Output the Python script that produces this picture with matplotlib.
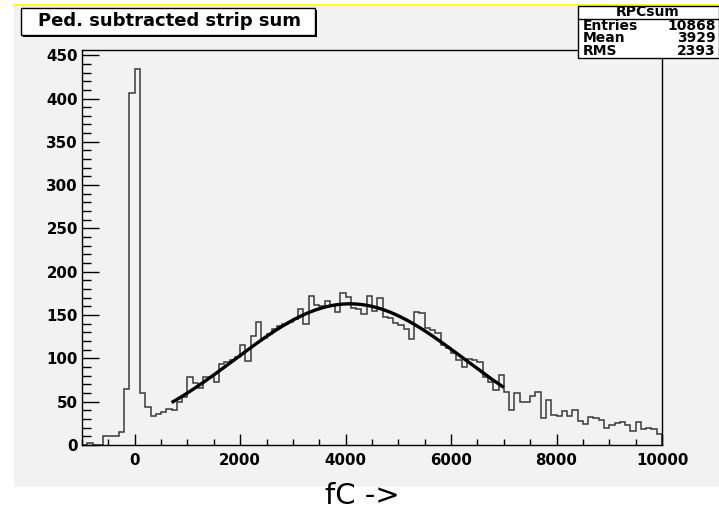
import numpy as np
import matplotlib
matplotlib.use("Agg")
import matplotlib.pyplot as plt
from matplotlib.patches import Rectangle
from matplotlib.lines import Line2D
from matplotlib.ticker import MultipleLocator

# ---------------- data ----------------
bin_low = -1000
bin_width = 100
counts = [
    0, 2, 0, 0, 10, 10, 10, 15, 65, 406,          # -1000 .. -100
    434, 60, 44, 34, 36, 38, 42, 40, 50, 55,      # 0 .. 900
    78, 72, 66, 79, 78, 73, 93, 96, 98, 102,      # 1000 .. 1900
    116, 97, 126, 142, 124, 128, 134, 137, 140, 142,  # 2000 .. 2900
    145, 157, 140, 172, 162, 160, 166, 160, 153, 175,  # 3000 .. 3900
    171, 158, 157, 151, 172, 155, 170, 148, 147, 141,  # 4000 .. 4900
    138, 134, 122, 153, 152, 135, 133, 129, 116, 112,  # 5000 .. 5900
    106, 98, 90, 99, 98, 96, 79, 73, 63, 81,      # 6000 .. 6900
    61, 40, 60, 50, 50, 57, 61, 31, 52, 35,       # 7000 .. 7900
    34, 39, 33, 40, 28, 24, 32, 31, 29, 20,       # 8000 .. 8900
    23, 25, 26, 23, 16, 26, 18, 20, 18, 13,       # 9000 .. 9900
]
fit_const = 163.0
fit_mean = 4080.0
fit_sigma = 2180.0
fit_range = (700, 7000)

title_text = "Ped. subtracted strip sum"
stats_name = "RPCsum"
stats_labels = ["Entries", "Mean", "RMS"]
stats_values = ["10868", "3929", "2393"]
x_title = "fC ->"

# ---------------- figure ----------------
W, H = 719, 511
fig = plt.figure(figsize=(W / 100, H / 100), dpi=100)
fig.patch.set_facecolor("white")


def fx(px):
    return px / W


def fy(py):
    return 1 - py / H


panel_col = "#f2f2f2"
fig.patches.append(Rectangle((fx(14), fy(487)), fx(719 - 14), (487 - 5) / H,
                             transform=fig.transFigure, facecolor=panel_col,
                             edgecolor="none", zorder=-5))
fig.add_artist(Line2D([fx(14), 1], [fy(5.5), fy(5.5)], transform=fig.transFigure,
                      color="#ffff00", lw=1.3, zorder=-4))

ax = fig.add_axes([fx(82), fy(445), fx(662 - 82), (445 - 50) / H])
ax.set_zorder(1)
ax.set_facecolor(panel_col)

edges = bin_low + bin_width * np.arange(len(counts) + 1)
ax.stairs(counts, edges, color="#3a3a3a", lw=1.1, baseline=0)

xf = np.linspace(fit_range[0], fit_range[1], 400)
yf = fit_const * np.exp(-0.5 * ((xf - fit_mean) / fit_sigma) ** 2)
ax.plot(xf, yf, color="black", lw=2.4, solid_capstyle="butt")

ax.set_xlim(-1000, 10000)
ax.set_ylim(0, 456)

ax.xaxis.set_major_locator(MultipleLocator(2000))
ax.xaxis.set_minor_locator(MultipleLocator(500))
ax.yaxis.set_major_locator(MultipleLocator(50))
ax.yaxis.set_minor_locator(MultipleLocator(10))

ax.tick_params(axis="x", which="major", direction="in", length=8, width=1,
               top=False, pad=6, labelsize=10.8, colors="black")
ax.tick_params(axis="x", which="minor", direction="in", length=4, width=1, top=False)
ax.tick_params(axis="y", which="major", direction="in", length=12.5, width=1,
               right=False, pad=3, labelsize=10.8, colors="black")
ax.tick_params(axis="y", which="minor", direction="in", length=6.5, width=1, right=False)
for lab in ax.get_xticklabels() + ax.get_yticklabels():
    lab.set_fontweight("bold")
    lab.set_family("DejaVu Sans")
for sp in ax.spines.values():
    sp.set_color("black")
    sp.set_linewidth(1.0)

# x title
fig.text(fx(362), fy(496), x_title, ha="center", va="center",
         fontsize=21, family="DejaVu Sans")

# title box with shadow
fig.patches.append(Rectangle((fx(23), fy(37)), fx(315 - 21), (35 - 8) / H,
                             transform=fig.transFigure, facecolor="black",
                             edgecolor="none", zorder=5))
fig.patches.append(Rectangle((fx(21), fy(35)), fx(315 - 21), (35 - 8) / H,
                             transform=fig.transFigure, facecolor="white",
                             edgecolor="black", lw=1, zorder=6))
fig.text(fx(170), fy(21.5), title_text, ha="center", va="center",
         fontsize=13, fontweight="bold", family="DejaVu Sans", zorder=7)

# stats box
fig.patches.append(Rectangle((fx(578), fy(58)), fx(719 - 578), (58 - 6) / H,
                             transform=fig.transFigure, facecolor="white",
                             edgecolor="black", lw=1, zorder=5))
fig.add_artist(Line2D([fx(578), 1], [fy(19), fy(19)], transform=fig.transFigure,
                      color="black", lw=1, zorder=6))
fig.text(fx(648), fy(12.5), stats_name, ha="center", va="center",
         fontsize=10, fontweight="bold", family="DejaVu Sans", zorder=7)
for i, (lab, val) in enumerate(zip(stats_labels, stats_values)):
    yy = 25.5 + 12.8 * i
    fig.text(fx(583), fy(yy), lab, ha="left", va="center",
             fontsize=10, fontweight="bold", family="DejaVu Sans", zorder=7)
    fig.text(fx(716), fy(yy), val, ha="right", va="center",
             fontsize=10, fontweight="bold", family="DejaVu Sans", zorder=7)

fig.savefig("out.png", dpi=100, facecolor="white")
